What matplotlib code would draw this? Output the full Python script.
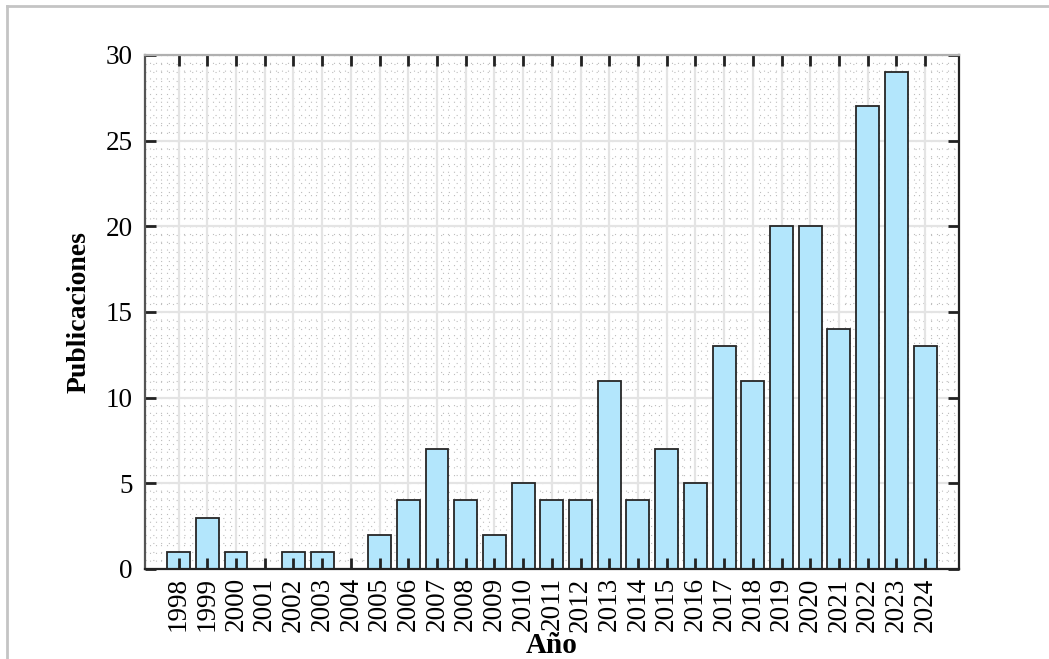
import matplotlib.pyplot as plt
import numpy as np
from matplotlib.lines import Line2D

years = list(range(1998, 2025))
pubs = [1, 3, 1, 0, 1, 1, 0, 2, 4, 7, 4, 2, 5, 4, 4, 11, 4, 7, 5, 13, 11, 20, 20, 14, 27, 29, 13]
yticks = [0, 5, 10, 15, 20, 25, 30]

plt.rcParams['font.family'] = ['Liberation Serif', 'DejaVu Serif']

fig = plt.figure(figsize=(10.49, 6.59), dpi=100)
ax = fig.add_axes([0.1382, 0.1366, 0.776, 0.78])

xlo, xhi = 1996.83, 2025.18
ax.set_xlim(xlo, xhi)
ax.set_ylim(0, 30)

# minor dotted grid
for x in np.arange(1997.0, 2025.2, 0.2):
    ax.axvline(x, color='#bdbdbd', lw=0.8, ls=(0, (1, 6)), zorder=0.2)
for y in np.arange(0, 30, 0.5):
    ax.axhline(y, color='#bdbdbd', lw=0.8, ls=(0, (1, 6)), zorder=0.2)
# major grid
for x in years:
    ax.axvline(x, color='#e4e4e4', lw=1.6, zorder=0.3)
for y in yticks:
    ax.axhline(y, color='#e4e4e4', lw=1.6, zorder=0.3)

ax.bar(years, pubs, width=0.8, color='#b3e6fc', edgecolor='#262626', linewidth=1.3, zorder=1)

ax.set_xticks(years)
ax.set_xticklabels([str(y) for y in years], rotation=90, fontsize=19.5)
ax.set_yticks(yticks)
ax.set_yticklabels([str(y) for y in yticks], fontsize=19.5)
ax.tick_params(direction='in', length=8, width=2, color='#222222', top=True, right=True, pad=9)
ax.tick_params(axis='x', pad=6)

ax.spines['top'].set_color('#b0b0b0')
ax.spines['left'].set_color('#555555')
ax.spines['right'].set_color('#222222')
ax.spines['bottom'].set_color('#222222')
for s in ax.spines.values():
    s.set_linewidth(1.6)
    s.set_zorder(3)

ax.set_xlabel('Año', fontsize=21, fontweight='bold', labelpad=0)
ax.set_ylabel('Publicaciones', fontsize=20, fontweight='bold', labelpad=10)

# outer frame of the screenshot
fig.add_artist(Line2D([7/1049, 1.0], [1 - 6/659] * 2, color='#c4c4c4', lw=2, transform=fig.transFigure))
fig.add_artist(Line2D([7/1049] * 2, [0, 1 - 6/659], color='#c4c4c4', lw=2, transform=fig.transFigure))

fig.savefig('out.png', dpi=100)
